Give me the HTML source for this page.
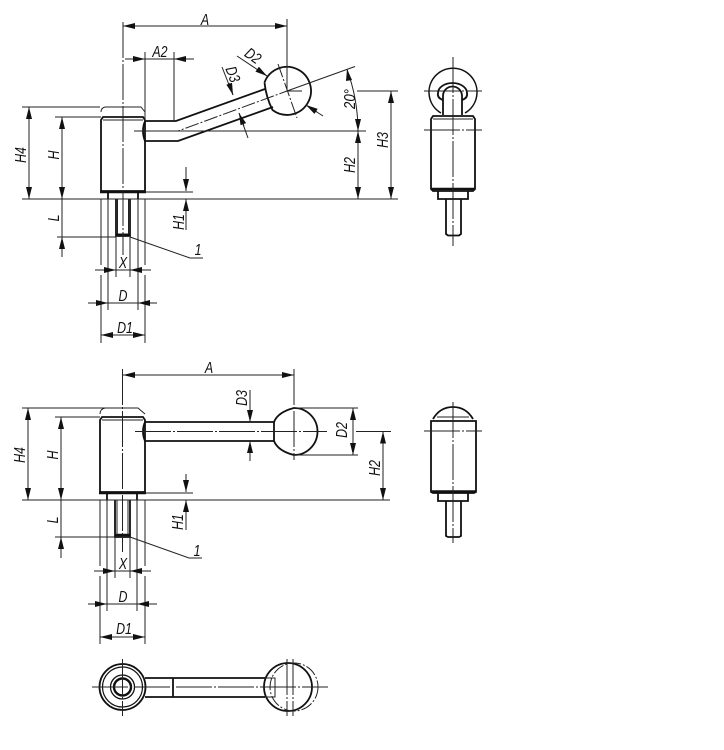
<!DOCTYPE html>
<html><head><meta charset="utf-8"><style>
html,body{margin:0;padding:0;background:#fff}
svg{display:block}
.k{fill:none;stroke:#111;stroke-width:1.8}
.t{fill:none;stroke:#222;stroke-width:1}
.c{fill:none;stroke:#222;stroke-width:1;stroke-dasharray:36 2 2 2}
.s{fill:none;stroke:#222;stroke-width:1;stroke-dasharray:14 2 2 2}
.d{fill:none;stroke:#222;stroke-width:1;marker-start:url(#a);marker-end:url(#a)}
.e{fill:none;stroke:#222;stroke-width:1;marker-end:url(#a)}
text{font-family:"Liberation Sans",sans-serif;font-style:italic;font-size:15.5px;fill:#111;text-anchor:middle}
</style></head><body>
<svg width="724" height="750" viewBox="0 0 724 750" xmlns="http://www.w3.org/2000/svg">
<defs><marker id="a" markerUnits="userSpaceOnUse" markerWidth="14" markerHeight="7" refX="12" refY="3" orient="auto-start-reverse"><path d="M0,0 L12,3 L0,6 Z" fill="#111"/></marker></defs>

<!-- TOP FRONT VIEW -->
<g class="k">
<path d="M101,191 V120 L103,117 H143 L145,120 V191 Z"/>
<path d="M100,192 H146" stroke-width="2.600"/>
<path d="M108,192 V199 M138,192 V199"/>
<path d="M116,199 V236 H130 V199"/>
<path d="M116,234.500 H130" stroke-width="2"/>
<path d="M145,121 H176 L265,89"/>
<path d="M145,141 H178 L273,107"/>
<path d="M145,121 Q141,131 145,141"/>
<path d="M264.500,82.500 A24,24 0 1 1 272.500,110 Q266,97 264.500,82.500"/>
</g>
<path class="t" d="M117.500,199 V234 M128.500,199 V234 M103,120 H143"/>
<path class="c" d="M123,22 V255"/>
<path class="t" d="M287,19 V91 M145,52 V121 M174,52 V121"/>
<path class="t" d="M22,107 H100 M101,112 Q101,108 105,107 M105,107 H141 L145,112"/>
<path class="t" d="M55,117 H101 M22,199 H398 M145,192 H193 M57,237 H116"/>
<path class="t" d="M134,131 H366"/>
<path class="s" d="M146,131 H178 L287,91"/>
<path class="t" d="M287,91 L355,66.500 M287,91 H302 M357,91 H398"/>
<path class="s" d="M278,64 L297,118"/>
<path class="t" d="M130,237 L190,258 H203"/>
<path class="t" d="M101,199 V265 M101,275 V343 M145,199 V265 M145,275 V343 M108,199 V310 M138,199 V310 M116,237 V277 M130,237 V277"/>

<path class="d" d="M123,26 H287"/>
<path class="t" d="M125,59 H194"/>
<path class="e" d="M134,59 H145"/><path class="e" d="M185,59 H174"/>
<path class="d" d="M29,107 V199"/>
<path class="d" d="M62,117 V199"/>
<path class="t" d="M62,199 V237"/>
<path class="e" d="M62,257 V237"/>
<path class="e" d="M186,167 V191"/>
<path class="e" d="M186,230 V199"/>
<path class="t" d="M95,270 H151"/><path class="e" d="M105,270 H116"/><path class="e" d="M141,270 H130"/>
<path class="t" d="M88,303 H157"/><path class="e" d="M97,303 H108"/><path class="e" d="M149,303 H138"/>
<path class="d" d="M101,335 H145"/>
<path class="d" d="M358,131 V199"/>
<path class="d" d="M391,91 V199"/>
<path class="t" d="M347,69.400 A180,180 0 0 1 358,131"/>
<path d="M347,69 L352,80 L346,81 Z M358,131 L355,119 L361,119 Z" fill="#111"/>
<path class="t" d="M237,56 L267,76 M306,105 L323,116"/>
<path class="e" d="M257,69 L267,76"/><path class="e" d="M317,112 L306,105"/>
<path class="t" d="M222,67 L233,95 M239,113 L248,138"/>
<path class="e" d="M229,83 L233,95"/><path class="e" d="M244,126 L239,113"/>

<text transform="translate(205,25) scale(.8,1)">A</text>
<text transform="translate(160,57) scale(.8,1)">A2</text>
<text transform="translate(26,155) rotate(-90) scale(.8,1)">H4</text>
<text transform="translate(59,155) rotate(-90) scale(.8,1)">H</text>
<text transform="translate(59,218) rotate(-90) scale(.8,1)">L</text>
<text transform="translate(184,222) rotate(-90) scale(.8,1)">H1</text>
<text transform="translate(198,255) scale(.8,1)">1</text>
<text transform="translate(123,268) scale(.8,1)">X</text>
<text transform="translate(123,301) scale(.8,1)">D</text>
<text transform="translate(125,333) scale(.8,1)">D1</text>
<text transform="translate(355,165) rotate(-90) scale(.8,1)">H2</text>
<text transform="translate(388,140) rotate(-90) scale(.8,1)">H3</text>
<text transform="translate(355,99) rotate(-90) scale(.85,1)">20°</text>
<text transform="translate(250,60) rotate(35) scale(.8,1)">D2</text>
<text transform="translate(228,76) rotate(70) scale(.8,1)">D3</text>

<!-- TOP SIDE VIEW -->
<g class="k">
<path d="M431,189 V119 L433,116 H473 L475,119 V189 L473,191 H433 Z"/>
<path d="M431,189 H475" stroke-width="2.600"/>
<path d="M438,191 V199 H468 V191"/>
<path d="M446,199 V234 L448,235.500 H459 L461,234 V199"/>
<path d="M443,115 V96 A9.500,9.500 0 0 1 462,96 V115"/>
<path d="M443,100 Q437,98 438,93 A14.500,10 0 0 1 467,93 Q468,98 462,100"/>
<path d="M441,113 A24,24 0 1 1 465,113" stroke-width="1.500"/>
</g>
<path class="t" d="M433,119 H473"/>
<path class="c" d="M453,57 V246" stroke-dasharray="30 2 2 2"/>
<path class="c" d="M424,91 H482" stroke-dasharray="22 2 2 2"/>
<path class="c" d="M424,130 H482" stroke-dasharray="22 2 2 2"/>

<!-- LOWER FRONT VIEW -->
<g class="k">
<path d="M100,492 V420 L102,417 H143 L145,420 V492 Z"/>
<path d="M99,493 H146" stroke-width="2.600"/>
<path d="M107,493 V500 M137,493 V500"/>
<path d="M115,500 V537 H130 V500"/>
<path d="M115,535 H130" stroke-width="2.500"/>
<path d="M145,422 H274 M145,441 H274"/>
<path d="M145,422 Q141,431.500 145,441"/>
<path d="M274,422 Q278,412 294,408 A23.500,23.500 0 0 1 294,455 Q278,451 274,441 Z"/>
</g>
<path class="t" d="M117,500 V535 M128,500 V535 M102,420 H143"/>
<path class="c" d="M122.500,369 V552"/>
<path class="c" d="M135,431.500 H327" stroke-dasharray="22 2 2 2"/>
<path class="c" d="M294,369 V460" stroke-dasharray="39 2 2 2"/>
<path class="t" d="M356,431.500 H391 M294,408 H358 M294,455 H358"/>
<path class="t" d="M22,408 H105 M105,408 H138 L145,414 M100,414 Q100,409 105,408"/>
<path class="t" d="M55,417 H100 M22,500 H390 M145,493 H193 M55,537 H115"/>
<path class="t" d="M130,537 L189,558 H202"/>
<path class="t" d="M100,500 V566 M100,576 V644 M145,500 V566 M145,576 V644 M107,500 V611 M137,500 V611 M115,537 V578 M130,537 V578"/>

<path class="d" d="M123,375 H294"/>
<path class="d" d="M28,408 V500"/>
<path class="d" d="M61,417 V500"/>
<path class="t" d="M61,500 V537"/>
<path class="e" d="M61,558 V537"/>
<path class="e" d="M186,474 V492"/>
<path class="e" d="M186,530 V500"/>
<path class="t" d="M94,571 H151"/><path class="e" d="M104,571 H115"/><path class="e" d="M141,571 H130"/>
<path class="t" d="M88,604 H157"/><path class="e" d="M96,604 H107"/><path class="e" d="M149,604 H137"/>
<path class="d" d="M100,637 H145"/>
<path class="d" d="M353,408 V455"/>
<path class="d" d="M383,431.500 V500"/>
<path class="t" d="M250,390 V422 M250,441 V461"/>
<path class="e" d="M250,411 V422"/><path class="e" d="M250,452 V441"/>

<text transform="translate(209,373) scale(.8,1)">A</text>
<text transform="translate(25,455) rotate(-90) scale(.8,1)">H4</text>
<text transform="translate(58,455) rotate(-90) scale(.8,1)">H</text>
<text transform="translate(58,520) rotate(-90) scale(.8,1)">L</text>
<text transform="translate(183,522) rotate(-90) scale(.8,1)">H1</text>
<text transform="translate(197,556) scale(.8,1)">1</text>
<text transform="translate(123,569) scale(.8,1)">X</text>
<text transform="translate(123,602) scale(.8,1)">D</text>
<text transform="translate(124,634) scale(.8,1)">D1</text>
<text transform="translate(247,398) rotate(-90) scale(.8,1)">D3</text>
<text transform="translate(347,430) rotate(-90) scale(.8,1)">D2</text>
<text transform="translate(380,468) rotate(-90) scale(.8,1)">H2</text>

<!-- LOWER SIDE VIEW -->
<g class="k">
<path d="M431,492 V421 H476 V492 L474,493 H433 Z"/>
<path d="M431,491.500 H476" stroke-width="2.600"/>
<path d="M438,493 V501 H468 V493"/>
<path d="M446,501 V536 L448,537 H459 L461,536 V501"/>
<path d="M433,419 Q440,407 453,407 Q466,407 473,419"/>
</g>
<path class="t" d="M437,417 H469"/>
<path class="c" d="M453,402 V543" stroke-dasharray="30 2 2 2"/>
<path class="c" d="M424,431 H482" stroke-dasharray="22 2 2 2"/>

<!-- BOTTOM VIEW -->
<g class="k">
<circle cx="122.500" cy="687" r="23"/>
<circle cx="122.500" cy="687" r="20" stroke-width="1.200"/>
<circle cx="122.500" cy="687" r="12" stroke-width="1.300"/>
<circle cx="122.500" cy="687" r="8.500" stroke-width="2.400"/>
<path d="M145,678 H265 M145,697 H265 M173,678 V697"/>
<circle cx="288" cy="687" r="24"/>
</g>
<path class="t" d="M265,678 H275 V697 H265"/>
<circle cx="294" cy="687" r="24" fill="none" stroke="#222" stroke-width="1" stroke-dasharray="12 2 2 2"/>
<path class="c" d="M92,687 H328" stroke-dasharray="20 2 2 2"/>
<path class="c" d="M122.500,659 V716" stroke-dasharray="22 2 2 2"/>
<path class="c" d="M287,659 V716" stroke-dasharray="22 2 2 2"/>
<path class="c" d="M293,659 V716" stroke-dasharray="22 2 2 2"/>
</svg>
</body></html>
